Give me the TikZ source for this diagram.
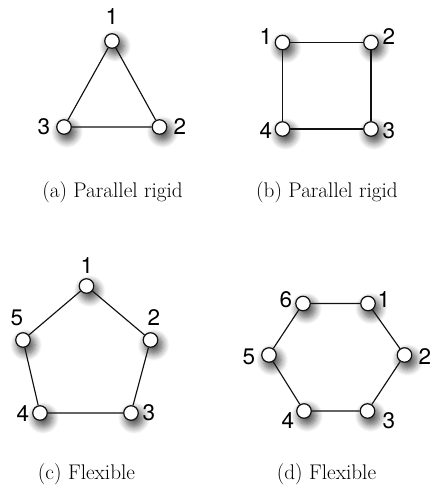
\documentclass[tikz,border=0pt]{standalone}
\usepackage{fontspec}
\usepackage{xcolor}
\usepackage{tikz}
\usetikzlibrary{shadows.blur}
\newfontfamily\numfont{TeX Gyre Heros}
\definecolor{Ink}{HTML}{111111}
\tikzset{
  vtx/.style={
    circle, draw=Ink, fill=white, line width=1.2pt,
    minimum size=14.5pt, inner sep=0pt,
    blur shadow={shadow xshift=2.5pt, shadow yshift=-4pt,
      shadow blur radius=5.5pt, shadow opacity=65, shadow scale=1.25,
      shadow blur steps=8}
  },
  edge/.style={draw=Ink, line width=1.15pt},
  num/.style={font=\numfont\fontsize{22.5}{24}\selectfont, inner sep=0pt},
  subcap/.style={font=\fontsize{21.2}{24}\selectfont, inner sep=0pt}
}

\begin{document}
\begin{tikzpicture}[x=1pt,y=-1pt]
  \useasboundingbox (0,0) rectangle (434,491);
  % (a) triangle
  \node[vtx] (a1) at (112,41) {};
  \node[vtx] (a2) at (159.5,127) {};
  \node[vtx] (a3) at (64,127) {};
  \draw[edge] (a1)--(a2) (a2)--(a3) (a3)--(a1);
  \node[num] (la1) at (112,17) {1};
  \node[num] (la2) at (180,127) {2};
  \node[num] (la3) at (44,127) {3};
  \node[subcap] (capa) at (112.5,192) {(a) Parallel rigid};
  % (b) square
  \node[vtx] (b1) at (282.5,42.5) {};
  \node[vtx] (b2) at (371,42.5) {};
  \node[vtx] (b3) at (371,129) {};
  \node[vtx] (b4) at (282.5,129) {};
  \draw[edge] (b1)--(b2) (b2)--(b3) (b3)--(b4) (b4)--(b1);
  \node[num] (lb1) at (266,37) {1};
  \node[num] (lb2) at (389,37) {2};
  \node[num] (lb3) at (389,131) {3};
  \node[num] (lb4) at (266,131) {4};
  \node[subcap] (capb) at (327,192) {(b) Parallel rigid};
  % (c) pentagon
  \node[vtx] (c1) at (86.5,286) {};
  \node[vtx] (c2) at (150.5,340) {};
  \node[vtx] (c3) at (131,413) {};
  \node[vtx] (c4) at (40,413) {};
  \node[vtx] (c5) at (23,340) {};
  \draw[edge] (c1)--(c2) (c2)--(c3) (c3)--(c4) (c4)--(c5) (c5)--(c1);
  \node[num] (lc1) at (87,266) {1};
  \node[num] (lc2) at (154,318) {2};
  \node[num] (lc3) at (149,413) {3};
  \node[num] (lc4) at (23,414) {4};
  \node[num] (lc5) at (17,318) {5};
  \node[subcap] (capc) at (86.5,474) {(c) Flexible};
  % (d) hexagon
  \node[vtx] (d1) at (368,303.5) {};
  \node[vtx] (d2) at (404.5,355) {};
  \node[vtx] (d3) at (367.5,411) {};
  \node[vtx] (d4) at (304,411) {};
  \node[vtx] (d5) at (269,355) {};
  \node[vtx] (d6) at (303,303.5) {};
  \draw[edge] (d1)--(d2) (d2)--(d3) (d3)--(d4) (d4)--(d5) (d5)--(d6) (d6)--(d1);
  \node[num] (ld1) at (384,300) {1};
  \node[num] (ld2) at (425,357) {2};
  \node[num] (ld3) at (389,421) {3};
  \node[num] (ld4) at (288,421) {4};
  \node[num] (ld5) at (249,357) {5};
  \node[num] (ld6) at (286,300) {6};
  \node[subcap] (capd) at (326.5,474) {(d) Flexible};
\end{tikzpicture}
\end{document}
